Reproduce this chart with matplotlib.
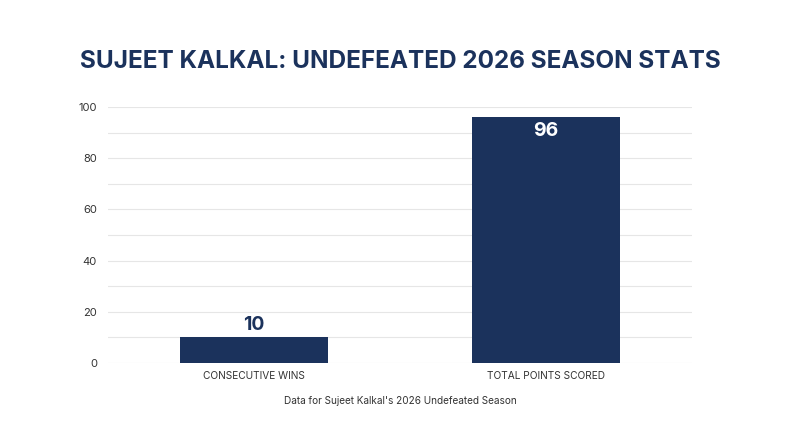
import matplotlib
matplotlib.use("Agg")
import matplotlib.pyplot as plt

###
### Data
###
categories = ["CONSECUTIVE WINS", "TOTAL POINTS SCORED"]
values     = [10, 96]
title      = "SUJEET KALKAL: UNDEFEATED 2026 SEASON STATS"
footer     = "Data for Sujeet Kalkal's 2026 Undefeated Season"

navy = "#1b325c"
plt.rcParams.update({'font.family': ['Inter', 'DejaVu Sans']})

fig = plt.figure(figsize=(8, 4.47), dpi=100)
ax = fig.add_axes([108/800, 1-363/447, 584/800, 256/447])

x = list(range(len(categories)))
bars = ax.bar(x, values, width=0.505, color=navy, zorder=2)

ax.set_xlim(-0.5, 1.5)
ax.set_ylim(0, 100)
ax.set_yticks(range(0, 101, 20))
ax.set_yticks(range(0, 101, 10), minor=True)
ax.grid(axis='y', which='both', color='#e6e6e6', linewidth=0.8, zorder=0)
for s in ax.spines.values():
    s.set_visible(False)
ax.tick_params(axis='both', which='both', length=0, labelcolor='#333333')
ax.tick_params(axis='y', pad=8, labelsize=8)
ax.tick_params(axis='x', pad=6, labelsize=7.3)
ax.set_xticks(x)
ax.set_xticklabels(categories)

###
### Value labels
###
for xi, v in zip(x, values):
    if v > 50:
        ax.text(xi, v - 2, str(v), ha='center', va='top', color='white',
                fontsize=14, fontweight='bold', zorder=3)
    else:
        ax.text(xi, v + 1.5, str(v), ha='center', va='bottom', color=navy,
                fontsize=14, fontweight='bold', zorder=3)

fig.text(0.5, 1-62/447, title, ha='center', va='center', color=navy,
         fontsize=17.5, fontweight='bold')
fig.text(0.5, 1-401/447, footer, ha='center', va='center', color='#333333',
         fontsize=7.2)

plt.savefig("out.png", dpi=100)
